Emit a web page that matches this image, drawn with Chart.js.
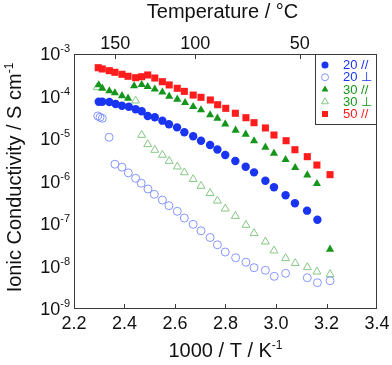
<!DOCTYPE html>
<html><head><meta charset="utf-8">
<script src="https://cdn.jsdelivr.net/npm/chart.js@4/dist/chart.umd.min.js"></script>
<style>html,body{margin:0;padding:0;background:#fff;}#wrap{width:392px;height:365px;}</style>
</head><body><div id="wrap"><canvas id="c" width="392" height="365"></canvas></div>
<script>
// ---- data (1000/T in K^-1, conductivity in S cm^-1) ----
const x20par = [2.298,2.312,2.340,2.365,2.390,2.417,2.444,2.468,2.492,2.520,2.550,2.576,2.608,2.637,2.672,2.703,2.739,2.768,2.799,2.839,2.880,2.913,2.958,2.992,3.038,3.075,3.123,3.164];
const s20par = [7.55e-5,7.55e-5,7.43e-5,6.67e-5,6.08e-5,5.75e-5,5.00e-5,4.49e-5,3.48e-5,3.24e-5,2.70e-5,2.22e-5,1.88e-5,1.44e-5,1.16e-5,9.12e-6,7.23e-6,5.66e-6,4.21e-6,3.03e-6,2.23e-6,1.64e-6,1.04e-6,7.31e-7,4.73e-7,3.07e-7,2.06e-7,1.26e-7];
const x20perp = [2.294,2.303,2.312,2.339,2.362,2.390,2.415,2.444,2.466,2.493,2.518,2.550,2.576,2.609,2.637,2.672,2.703,2.739,2.768,2.799,2.840,2.881,2.913,2.958,2.993,3.038,3.124,3.164,3.214];
const s20perp = [3.48e-5,3.24e-5,3.07e-5,1.10e-5,2.55e-6,2.17e-6,1.60e-6,1.19e-6,9.12e-7,6.67e-7,5.00e-7,3.67e-7,2.70e-7,1.99e-7,1.38e-7,9.84e-8,6.92e-8,4.81e-8,3.24e-8,2.19e-8,1.61e-8,1.26e-8,9.38e-9,8.15e-9,5.87e-9,6.92e-9,5.44e-9,4.16e-9,4.63e-9];
const x30par = [2.298,2.312,2.340,2.362,2.390,2.414,2.438,2.468,2.492,2.520,2.550,2.577,2.609,2.640,2.672,2.703,2.739,2.768,2.799,2.840,2.880,2.913,2.958,2.992,3.038,3.076,3.124,3.162,3.214];
const s30par = [1.87e-4,1.56e-4,1.35e-4,1.21e-4,1.04e-4,9.08e-5,1.77e-4,1.90e-4,1.70e-4,1.48e-4,1.26e-4,1.01e-4,8.59e-5,7.14e-5,5.75e-5,4.81e-5,3.67e-5,3.07e-5,2.25e-5,1.60e-5,1.29e-5,8.98e-6,6.38e-6,4.61e-6,3.27e-6,2.11e-6,1.42e-6,8.87e-7,2.54e-8];
const x30perp = [2.292,2.444,2.468,2.492,2.520,2.550,2.577,2.609,2.637,2.672,2.703,2.739,2.768,2.799,2.839,2.881,2.913,2.958,2.992,3.038,3.076,3.124,3.162,3.214];
const s30perp = [1.64e-4,7.96e-5,1.24e-5,7.50e-6,5.51e-6,4.21e-6,3.03e-6,2.23e-6,1.63e-6,1.13e-6,7.83e-7,5.31e-7,3.52e-7,2.29e-7,1.54e-7,9.46e-8,6.04e-8,3.84e-8,2.36e-8,1.56e-8,1.19e-8,9.57e-9,7.55e-9,6.55e-9];
const x50par = [2.296,2.312,2.340,2.362,2.390,2.414,2.444,2.468,2.492,2.520,2.550,2.577,2.609,2.637,2.672,2.703,2.740,2.769,2.801,2.839,2.881,2.913,2.958,2.992,3.040,3.075,3.124,3.162,3.214];
const s50par = [4.76e-4,4.44e-4,4.05e-4,3.71e-4,3.33e-4,2.99e-4,2.77e-4,2.92e-4,3.21e-4,2.72e-4,2.23e-4,1.87e-4,1.56e-4,1.32e-4,1.08e-4,9.57e-5,8.28e-5,6.41e-5,5.27e-5,4.03e-5,3.17e-5,2.42e-5,1.82e-5,1.24e-5,9.12e-6,5.60e-6,3.84e-6,2.44e-6,1.45e-6];

const seriesLabels = ['20 //','20 \u22A5','30 //','30 \u22A5','50 //'];
const xTickValues = [2.2,2.4,2.6,2.8,3.0,3.2,3.4];
const xTickLabels = ['2.2','2.4','2.6','2.8','3.0','3.2','3.4'];
const yTickExponents = [-3,-4,-5,-6,-7,-8,-9];
const topTempTicks = [150,100,50];
const xTitle = '1000 / T / K';
const xTitleSup = '-1';
const yTitle = 'Ionic Conductivity / S cm';
const yTitleSup = '-1';
const topTitle = 'Temperature / \u00B0C';

const FONT = "'Liberation Sans', Arial, Helvetica, sans-serif";
const C_BLUE = '#1a35f2', C_BLUE_O = '#8595ff', C_GREEN = '#14961a', C_GREEN_O = '#86c886', C_RED = '#ff1c1c';

function pts(xs, ys){ return xs.map((x,i)=>({x:x, y:ys[i]})); }

const styles = [
  {color:C_BLUE, fill:true, shape:'circle', text:C_BLUE},
  {color:C_BLUE_O, fill:false, shape:'circle', text:C_BLUE},
  {color:C_GREEN, fill:true, shape:'triangle', text:C_GREEN},
  {color:C_GREEN_O, fill:false, shape:'triangle', text:C_GREEN},
  {color:C_RED, fill:true, shape:'rect', text:C_RED}
];

const datasets = [
  {label:seriesLabels[0], data:pts(x20par,s20par), pointStyle:'circle', pointRadius:4.2, backgroundColor:C_BLUE, borderColor:C_BLUE, borderWidth:0, order:1},
  {label:seriesLabels[1], data:pts(x20perp,s20perp), pointStyle:'circle', pointRadius:4.0, backgroundColor:'rgba(0,0,0,0)', borderColor:C_BLUE_O, borderWidth:1, order:2},
  {label:seriesLabels[2], data:pts(x30par,s30par), pointStyle:'triangle', pointRadius:4.7, backgroundColor:C_GREEN, borderColor:C_GREEN, borderWidth:0, order:1},
  {label:seriesLabels[3], data:pts(x30perp,s30perp), pointStyle:'triangle', pointRadius:4.6, backgroundColor:'rgba(0,0,0,0)', borderColor:C_GREEN_O, borderWidth:1, order:2},
  {label:seriesLabels[4], data:pts(x50par,s50par), pointStyle:'rect', pointRadius:5.0, backgroundColor:C_RED, borderColor:C_RED, borderWidth:0, order:0}
];
datasets.forEach(d=>{ d.showLine=false; d.pointHoverRadius=d.pointRadius; });

function supText(ctx, base, sup, x, y, align, size, supSize, raise){
  ctx.font = size+'px '+FONT;
  const wb = ctx.measureText(base).width;
  ctx.font = supSize+'px '+FONT;
  const ws = ctx.measureText(sup).width;
  const total = wb+ws;
  let x0 = align==='right' ? x-total : align==='center' ? x-total/2 : x;
  ctx.textAlign='left'; ctx.textBaseline='alphabetic';
  ctx.font = size+'px '+FONT;
  ctx.fillText(base, x0, y);
  ctx.font = supSize+'px '+FONT;
  ctx.fillText(sup, x0+wb, y-raise);
}

function marker(ctx, st, x, y){
  ctx.save();
  ctx.beginPath();
  if(st.shape==='circle'){ ctx.arc(x,y,3.5,0,Math.PI*2); }
  else if(st.shape==='triangle'){ const r=4; ctx.moveTo(x,y-r); ctx.lineTo(x+r*0.866,y+r*0.5); ctx.lineTo(x-r*0.866,y+r*0.5); ctx.closePath(); }
  else { ctx.rect(x-3,y-3,6,6); }
  if(st.fill){ ctx.fillStyle=st.color; ctx.fill(); }
  else { ctx.strokeStyle=st.color; ctx.lineWidth=1; ctx.stroke(); }
  ctx.restore();
}

const decor = {
  id:'decor',
  beforeDatasetsDraw(chart){
    const {ctx, chartArea:a} = chart;
    ctx.save();
    ctx.strokeStyle='#3a3a3a'; ctx.lineWidth=1;
    ctx.strokeRect(Math.round(a.left)+0.5, Math.round(a.top)+0.5, Math.round(a.right-a.left)-1, Math.round(a.bottom-a.top)-1);
    ctx.restore();
  },
  afterDraw(chart){
    const {ctx, chartArea:a, scales} = chart;
    const xs = scales.x, ys = scales.y;
    ctx.save();
    ctx.fillStyle='#111'; ctx.strokeStyle='#3a3a3a'; ctx.lineWidth=1;
    xTickValues.forEach((v,i)=>{
      const px = Math.round(xs.getPixelForValue(v))+0.5;
      if(i>0 && i<xTickValues.length-1){
        ctx.beginPath(); ctx.moveTo(px, a.bottom); ctx.lineTo(px, a.bottom-5); ctx.stroke();
      }
      ctx.font='18px '+FONT; ctx.textAlign='center'; ctx.textBaseline='alphabetic';
      ctx.fillText(xTickLabels[i], xs.getPixelForValue(v), a.bottom+20);
    });
    topTempTicks.forEach(t=>{
      const v = 1000/(t+273.15);
      const px = Math.round(xs.getPixelForValue(v))+0.5;
      ctx.beginPath(); ctx.moveTo(px, a.top); ctx.lineTo(px, a.top+5); ctx.stroke();
      ctx.font='18px '+FONT; ctx.textAlign='center'; ctx.textBaseline='alphabetic';
      ctx.fillText(String(t), xs.getPixelForValue(v), a.top-5);
    });
    yTickExponents.forEach(e=>{
      const py = ys.getPixelForValue(Math.pow(10,e));
      supText(ctx, '10', String(e), a.left-4, py+6, 'right', 18, 11, 8);
    });
    ctx.textAlign='center';
    ctx.font='20px '+FONT;
    ctx.fillText(topTitle, (a.left+a.right)/2 - 3, 18);
    supText(ctx, xTitle, xTitleSup, (a.left+a.right)/2, 357, 'center', 20, 12, 8);
    ctx.save();
    ctx.translate(21, (a.top+a.bottom)/2 - 4);
    ctx.rotate(-Math.PI/2);
    supText(ctx, yTitle, yTitleSup, 0, 0, 'center', 20, 12, 8);
    ctx.restore();
    const lx0 = 315, ly0 = Math.round(a.top), lx1 = Math.round(a.right), ly1 = 124;
    ctx.fillStyle='#fff';
    ctx.fillRect(lx0, ly0, lx1-lx0, ly1-ly0);
    ctx.strokeStyle='#3a3a3a';
    ctx.strokeRect(lx0+0.5, ly0+0.5, lx1-lx0-1, ly1-ly0);
    styles.forEach((st,i)=>{
      const yy = 65 + i*12.25;
      marker(ctx, st, 325, yy);
      ctx.fillStyle = st.text;
      ctx.font='13px '+FONT; ctx.textAlign='left'; ctx.textBaseline='middle';
      ctx.fillText(seriesLabels[i], 343, yy+0.5);
    });
    ctx.restore();
  }
};

new Chart(document.getElementById('c'), {
  type:'scatter',
  data:{datasets},
  options:{
    responsive:false, animation:false, devicePixelRatio:1,
    layout:{padding:{left:0,right:15,top:0,bottom:0}},
    plugins:{legend:{display:false}, tooltip:{enabled:false}},
    scales:{
      x:{type:'linear', position:'bottom', min:2.2, max:3.4,
         ticks:{display:false}, grid:{display:false}, border:{display:false},
         afterFit:s=>{s.height=56;}},
      x2:{type:'linear', position:'top', min:2.2, max:3.4,
         ticks:{display:false}, grid:{display:false}, border:{display:false},
         afterFit:s=>{s.height=54;}},
      y:{type:'logarithmic', position:'left', min:1e-9, max:1e-3,
         ticks:{display:false}, grid:{display:false}, border:{display:false},
         afterFit:s=>{s.width=74;}}
    }
  },
  plugins:[decor]
});
</script></body></html>
